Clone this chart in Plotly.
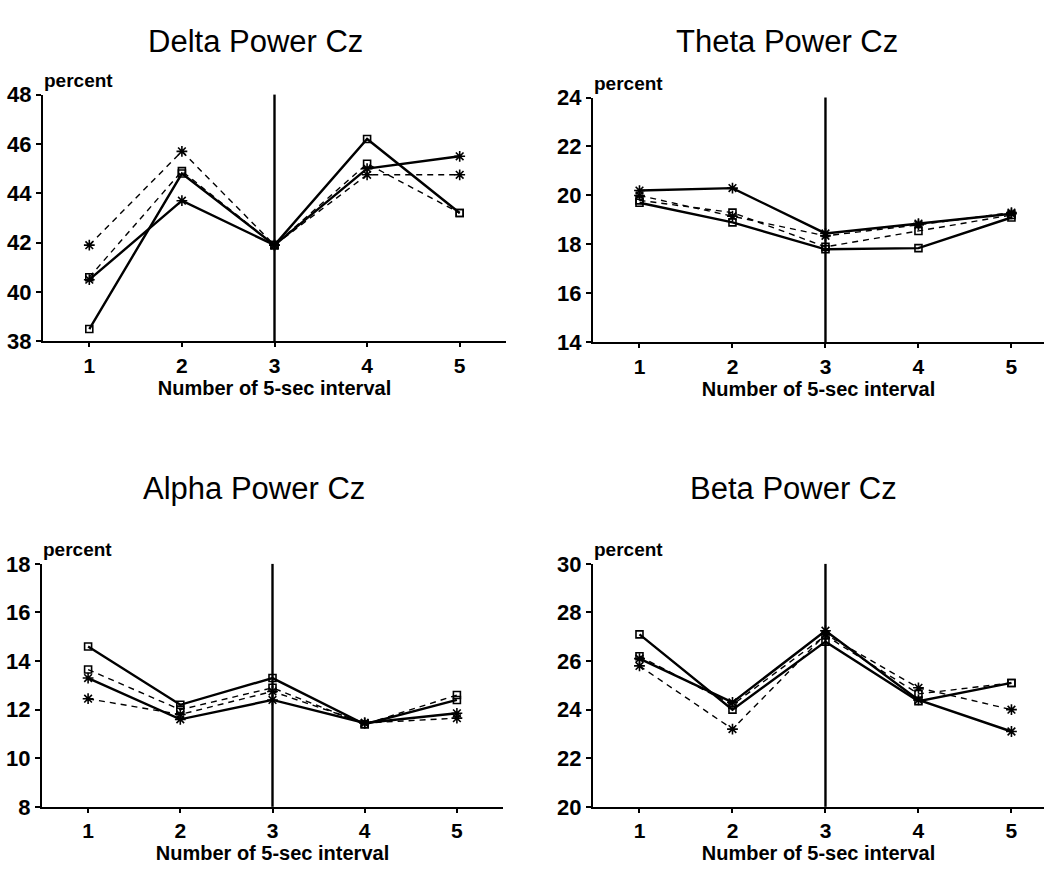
import plotly.graph_objects as go

W, H = 1044, 882

intervals = [1, 2, 3, 4, 5]
divider_x = 3

# Delta
delta_solid_square = [38.5, 44.8, 41.9, 46.2, 43.2]
delta_solid_star = [40.5, 43.7, 41.9, 45.0, 45.5]
delta_dashed_square = [40.6, 44.9, 41.9, 45.2, 43.2]
delta_dashed_star = [41.9, 45.7, 41.9, 44.75, 44.75]

# Theta
theta_solid_square = [19.7, 18.9, 17.8, 17.85, 19.1]
theta_solid_star = [20.2, 20.3, 18.45, 18.85, 19.25]
theta_dashed_square = [19.8, 19.3, 17.9, 18.55, 19.2]
theta_dashed_star = [20.0, 19.15, 18.35, 18.8, 19.3]

# Alpha
alpha_solid_square = [14.6, 12.2, 13.3, 11.4, 12.4]
alpha_solid_star = [13.3, 11.6, 12.4, 11.45, 11.85]
alpha_dashed_square = [13.65, 12.0, 12.9, 11.4, 12.6]
alpha_dashed_star = [12.45, 11.8, 12.75, 11.45, 11.65]

# Beta
beta_solid_square = [27.1, 24.0, 26.8, 24.35, 25.1]
beta_solid_star = [26.1, 24.3, 27.25, 24.4, 23.1]
beta_dashed_square = [26.2, 24.2, 27.05, 24.65, 25.1]
beta_dashed_star = [25.8, 23.2, 27.1, 24.9, 24.0]

titles = ["Delta Power Cz", "Theta Power Cz", "Alpha Power Cz", "Beta Power Cz"]
y_ranges = [[38, 48], [14, 24], [8, 18], [20, 30]]
y_ticks = [[38, 40, 42, 44, 46, 48], [14, 16, 18, 20, 22, 24],
           [8, 10, 12, 14, 16, 18], [20, 22, 24, 26, 28, 30]]
x_tick_labels = ["1", "2", "3", "4", "5"]
x_title = "Number of 5-sec interval"
y_label = "percent"

panels_data = [
    (delta_solid_square, delta_solid_star, delta_dashed_square, delta_dashed_star),
    (theta_solid_square, theta_solid_star, theta_dashed_square, theta_dashed_star),
    (alpha_solid_square, alpha_solid_star, alpha_dashed_square, alpha_dashed_star),
    (beta_solid_square, beta_solid_star, beta_dashed_square, beta_dashed_star),
]

# layout geometry in pixels: (left, right, top, bottom), x-range
geom = [
    (43, 506, 85, 339, [0.5, 5.5]),
    (593, 1044, 88, 340, [0.5, 5.35]),
    (42, 503, 568, 818, [0.5, 5.5]),
    (593, 1044, 568, 818, [0.5, 5.35]),
]
title_pos = [(255, 30), (787, 30), (254, 490), (793, 490)]

FONT = "Liberation Sans"


def px_x(p):
    return p / W


def px_y(p):
    return 1 - p / H


fig = go.Figure()
layout = dict(
    width=W, height=H, margin=dict(l=0, r=0, t=0, b=0),
    paper_bgcolor="white", plot_bgcolor="white", showlegend=False,
    font=dict(family=FONT, color="black"),
)
annotations = []
shapes = []

for i, (data, g) in enumerate(zip(panels_data, geom)):
    n = i + 1
    xa = "x" if n == 1 else f"x{n}"
    ya = "y" if n == 1 else f"y{n}"
    left, right, top, bottom, xr = g
    styles = [
        ("solid", "square-open", 7, 2.4),
        ("solid", "asterisk-open", 9, 2.4),
        ("6px,5px", "square-open", 7, 1.4),
        ("6px,5px", "asterisk-open", 9, 1.4),
    ]
    for vals, (dash, sym, ms, lw) in zip(data, styles):
        fig.add_trace(go.Scatter(
            x=intervals, y=vals, mode="lines+markers",
            line=dict(color="black", width=lw, dash=dash),
            marker=dict(symbol=sym, size=ms, color="black",
                        line=dict(color="black", width=1.6)),
            xaxis=xa, yaxis=ya, cliponaxis=False,
        ))
    layout["xaxis" if n == 1 else f"xaxis{n}"] = dict(
        domain=[px_x(left), px_x(right)], range=xr, anchor=ya,
        tickmode="array", tickvals=intervals, ticktext=x_tick_labels,
        showline=True, linecolor="black", linewidth=2,
        ticks="outside", ticklen=4, tickcolor="black", tickwidth=1.5,
        showgrid=False, zeroline=False,
        tickfont=dict(family=FONT, size=21, color="black", weight="bold"),
        title=dict(text=x_title, standoff=4,
                   font=dict(family=FONT, size=20, color="black", weight="bold")),
    )
    layout["yaxis" if n == 1 else f"yaxis{n}"] = dict(
        domain=[px_y(bottom), px_y(top)], range=y_ranges[i], anchor=xa,
        tickmode="array", tickvals=y_ticks[i],
        showline=True, linecolor="black", linewidth=2,
        ticks="outside", ticklen=5, tickcolor="black", tickwidth=1.5,
        showgrid=False, zeroline=False,
        tickfont=dict(family=FONT, size=22, color="black", weight="bold"),
    )
    shapes.append(dict(type="line", xref=xa, yref=f"{ya} domain",
                       x0=divider_x, x1=divider_x, y0=0, y1=1,
                       line=dict(color="black", width=2.4)))
    annotations.append(dict(
        text=y_label, xref="paper", yref="paper",
        x=px_x(left - 1), y=px_y(top - 2), xanchor="left", yanchor="bottom",
        showarrow=False,
        font=dict(family=FONT, size=19, color="black", weight="bold"),
    ))
    tx, ty = title_pos[i]
    annotations.append(dict(
        text=titles[i], xref="paper", yref="paper",
        x=px_x(tx), y=px_y(ty), xanchor="center", yanchor="middle",
        showarrow=False,
        font=dict(family=FONT, size=31, color="black"),
    ))

layout["annotations"] = annotations
layout["shapes"] = shapes
fig.update_layout(**layout)
fig.write_html("out.html")
